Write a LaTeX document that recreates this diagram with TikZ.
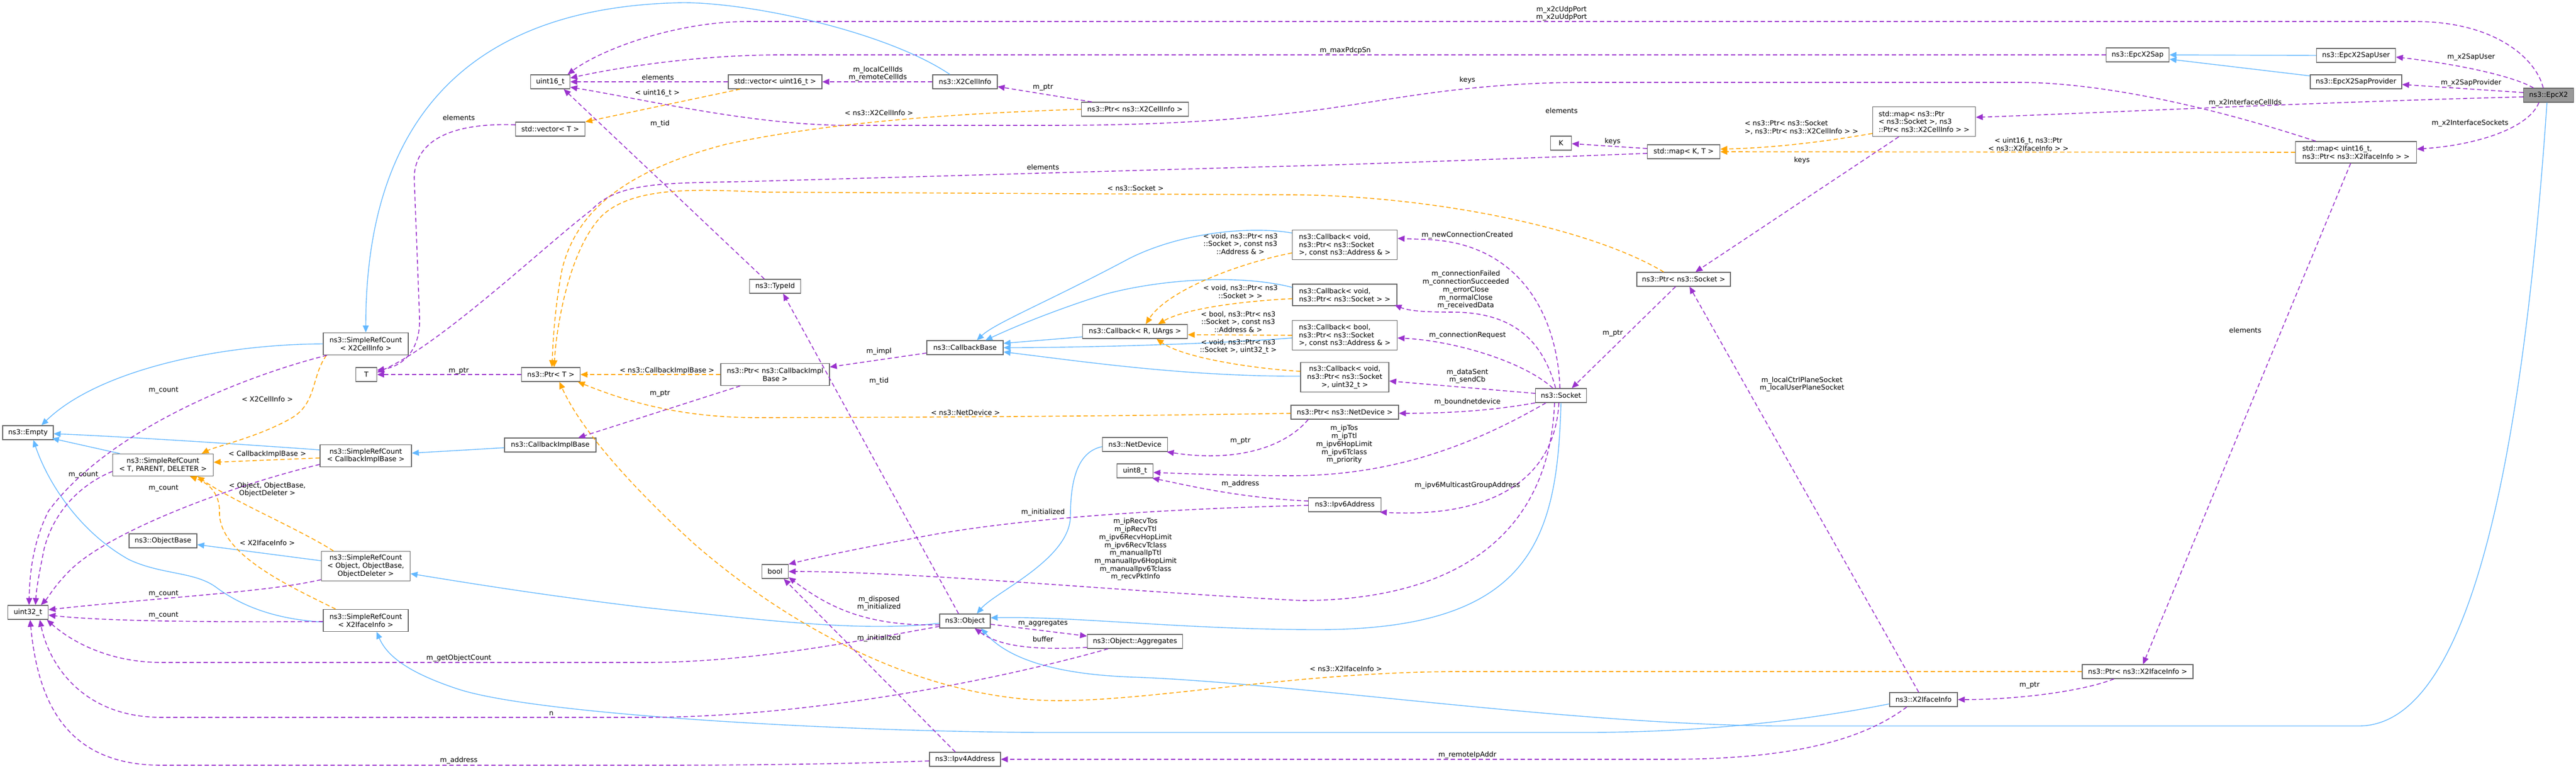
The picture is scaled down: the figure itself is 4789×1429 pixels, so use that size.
\documentclass[tikz,border=0pt]{standalone}
\usepackage{fontspec}
\setmainfont{DejaVu Sans}
\usetikzlibrary{arrows.meta}
\definecolor{usecol}{HTML}{9A32CD}
\definecolor{tplcol}{HTML}{FFA500}
\definecolor{inhcol}{HTML}{63B8FF}
\definecolor{boxline}{HTML}{666666}
\definecolor{focusfill}{HTML}{999999}
\newcommand{\bx}[7][]{\node[nodebox,#1,minimum width=#5pt,minimum height=#6pt] (#2) at (#3,#4) {#7};}
\begin{document}
\begin{tikzpicture}[x=1pt,y=-1pt,
  every node/.style={font=\fontsize{12.9}{14.7}\selectfont, inner sep=0pt},
  nodebox/.style={draw=boxline, line width=1.3pt, fill=white, align=center},
  lbl/.style={align=center},
  usage/.style={draw=usecol, line width=1.6pt, dash pattern=on 8pt off 5pt, -{Triangle[length=13pt,width=11pt]}},
  tmpl/.style={draw=tplcol, line width=1.6pt, dash pattern=on 8pt off 5pt, -{Triangle[length=13pt,width=11pt]}},
  inh/.style={draw=inhcol, line width=1.4pt, -{Triangle[length=13pt,width=11pt]}}
]
\fill[white] (0,0) rectangle (4789,1429);
\useasboundingbox (0,0) rectangle (4789,1429);

% ---------- nodes ----------
\bx{uint16}{1023}{152}{73}{26}{uint16\_t}
\bx{vecT}{1023}{240}{129}{26}{std::vector< T >}
\bx{vecU16}{1441}{152}{174}{26}{std::vector< uint16\_t >}
\bx{x2cell}{1794}{152}{120}{26}{ns3::X2CellInfo}
\bx{ptrcell}{2110}{203}{199}{26}{ns3::Ptr< ns3::X2CellInfo >}
\bx{srcCell}{680}{639}{158}{41}{ns3::SimpleRefCount\\< X2CellInfo >}
\bx{tnode}{681}{696}{39}{26}{T}
\bx{ptrT}{1024}{696}{109}{26}{ns3::Ptr< T >}
\bx{empty}{52}{804}{94}{26}{ns3::Empty}
\bx{srcT}{303}{864}{187}{41}{ns3::SimpleRefCount\\< T, PARENT, DELETER >}
\bx{srcCB}{680}{847}{170}{41}{ns3::SimpleRefCount\\< CallbackImplBase >}
\bx{cbimpl}{1023}{827}{170}{26}{ns3::CallbackImplBase}
\bx{objbase}{303}{1005}{126}{26}{ns3::ObjectBase}
\bx{srcObj}{680}{1052}{165}{55}{ns3::SimpleRefCount\\< Object, ObjectBase,\\ ObjectDeleter >}
\bx{uint32}{52}{1138}{75}{26}{uint32\_t}
\bx{srcIf}{680}{1153}{158}{41}{ns3::SimpleRefCount\\< X2IfaceInfo >}
\bx{typeid}{1441}{532}{95}{26}{ns3::TypeId}
\bx{ptrCB}{1441}{696}{202}{41}{ns3::Ptr< ns3::CallbackImpl\\Base >}
\bx{cbbase}{1794}{646}{142}{26}{ns3::CallbackBase}
\bx{cbR}{2110}{616}{195}{26}{ns3::Callback< R, UArgs >}
\bx{netdev}{2110}{826}{121}{26}{ns3::NetDevice}
\bx{uint8}{2110}{875}{67}{26}{uint8\_t}
\bx{boolnode}{1441}{1062}{49}{26}{bool}
\bx{object}{1794}{1154}{94}{26}{ns3::Object}
\bx{aggr}{2110}{1192}{177}{26}{ns3::Object::Aggregates}
\bx{ipv4}{1794}{1411}{132}{26}{ns3::Ipv4Address}
\bx{knode}{2902}{266}{39}{26}{K}
\bx{mapKT}{3130}{282}{135}{26}{std::map< K, T >}
\bx[align=left]{mapSock}{3577}{226}{191}{55}{std::map< ns3::Ptr\\< ns3::Socket >, ns3\\::Ptr< ns3::X2CellInfo > >}
\bx[align=left]{cbAddr}{2500}{455}{195}{55}{ns3::Callback< void,\\ ns3::Ptr< ns3::Socket\\>, const ns3::Address \& >}
\bx{ptrSock}{3130}{519}{174}{26}{ns3::Ptr< ns3::Socket >}
\bx[align=left]{cbVoid}{2500}{548}{194}{40}{ns3::Callback< void,\\ ns3::Ptr< ns3::Socket > >}
\bx[align=left]{cbBool}{2500}{623}{195}{55}{ns3::Callback< bool,\\ ns3::Ptr< ns3::Socket\\>, const ns3::Address \& >}
\bx{cbU32}{2500}{701}{164}{55}{ns3::Callback< void,\\ ns3::Ptr< ns3::Socket\\>, uint32\_t >}
\bx{socket}{2902}{735}{95}{26}{ns3::Socket}
\bx{ptrND}{2500}{766}{200}{26}{ns3::Ptr< ns3::NetDevice >}
\bx{ipv6}{2500}{938}{135}{26}{ns3::Ipv6Address}
\bx{x2if}{3576}{1300}{126}{26}{ns3::X2IfaceInfo}
\bx{sap}{3974}{102}{117}{26}{ns3::EpcX2Sap}
\bx{sapUser}{4380}{103}{147}{26}{ns3::EpcX2SapUser}
\bx{sapProv}{4380}{152}{170}{26}{ns3::EpcX2SapProvider}
\bx[fill=focusfill]{epcx2}{4738}{177}{93}{26}{ns3::EpcX2}
\bx[align=left]{mapIf}{4380}{283}{225}{40}{std::map< uint16\_t,\\ ns3::Ptr< ns3::X2IfaceInfo > >}
\bx{ptrIf}{3974}{1248}{206}{26}{ns3::Ptr< ns3::X2IfaceInfo >}

% ---------- edges ----------
\draw[usage] ([xshift=-10pt]epcx2.north) .. controls (4715,110) and (4640,40) .. (4490,40) -- (1390,40) .. controls (1260,40) and (1120,90) .. ([xshift=-5pt]uint16.north east);
\draw[usage] (sap.west) -- (1450,102) .. controls (1300,102) and (1150,125) .. ([yshift=7pt]uint16.east);
\draw[usage] (vecU16.west) -- (uint16.east);
\draw[tmpl] ([xshift=-65pt]vecU16.south) -- (vecT.north east);
\draw[usage] ([xshift=-20pt]typeid.north) -- ([xshift=25pt]uint16.south);
\draw[usage] ([xshift=-75pt]mapIf.north) .. controls (4100,195) and (3900,153) .. (3750,153) -- (2950,153) .. controls (2700,153) and (2550,195) .. (2400,210) .. controls (2250,228) and (2100,233) .. (1950,233) -- (1580,233) .. controls (1400,233) and (1200,185) .. ([yshift=-10pt]uint16.east);
\draw[usage] (x2cell.west) -- (vecU16.east);
\draw[usage] ([xshift=-80pt]ptrcell.north) -- ([yshift=-9pt]x2cell.east);
\draw[tmpl] (ptrcell.west) .. controls (1800,210) and (1550,225) .. (1350,268) .. controls (1150,320) and (1070,400) .. (1045,500) .. controls (1030,580) and (1028,640) .. ([xshift=2pt]ptrT.north);
\draw[tmpl] ([xshift=-37pt]ptrSock.north) .. controls (2950,420) and (2650,363) .. (2400,362) -- (1420,357) .. controls (1300,352) and (1180,345) .. (1120,400) .. controls (1060,460) and (1035,600) .. ([xshift=6pt]ptrT.north);
\draw[usage] ([yshift=-3pt]mapKT.west) .. controls (2800,295) and (2550,305) .. (2350,310) -- (1400,337) .. controls (1250,341) and (1150,335) .. (1100,390) .. controls (1020,450) and (820,640) .. ([yshift=4pt]tnode.east);
\draw[usage] ([yshift=8pt]vecT.west) .. controls (850,228) and (772,255) .. (770,330) -- (780,590) .. controls (782,650) and (750,680) .. ([yshift=8pt]tnode.east);
\draw[usage] ([yshift=6pt]mapKT.west) -- ([yshift=-1pt]knode.east);
\draw[tmpl] ([yshift=-22pt]mapSock.west) .. controls (3400,262) and (3300,275) .. ([yshift=5pt]mapKT.east);
\draw[tmpl] (mapIf.west) -- (mapKT.east);
\draw[usage] ([xshift=-47pt]mapSock.south) -- ([xshift=22pt]ptrSock.north);
\draw[usage] ([xshift=-10pt]mapIf.south) -- ([xshift=10pt]ptrIf.north);
\draw[usage] ([xshift=-28pt]epcx2.north) .. controls (4670,140) and (4560,118) .. ([yshift=-3pt]sapUser.east);
\draw[usage] ([yshift=5pt]epcx2.west) -- ([yshift=-5pt]sapProv.east);
\draw[usage] ([yshift=-3pt]epcx2.west) .. controls (4300,190) and (3900,210) .. ([yshift=8pt]mapSock.east);
\draw[usage] ([xshift=-18pt]epcx2.south) .. controls (4700,240) and (4600,270) .. ([yshift=6pt]mapIf.east);
\draw[inh] (sapUser.west) -- (sap.east);
\draw[inh] ([yshift=11pt]sapProv.west) -- ([yshift=-8pt]sap.east);
\draw[inh] ([xshift=-3pt]epcx2.south) .. controls (4680,1000) and (4560,1349) .. (4385,1349) -- (3300,1349) .. controls (2900,1345) and (2400,1268) .. (2100,1258) .. controls (1950,1252) and (1870,1220) .. ([xshift=30pt]object.south);
\draw[inh] (socket.south) .. controls (2895,1000) and (2850,1170) .. (2450,1170) .. controls (2200,1170) and (2000,1145) .. ([yshift=6pt]object.east);
\draw[inh] ([yshift=-4pt]netdev.west) .. controls (2000,840) and (1990,900) .. (1990,960) .. controls (1988,1040) and (1850,1100) .. ([xshift=22pt]object.north);
\draw[inh] ([yshift=-4pt]object.west) .. controls (1600,1176) and (1400,1150) .. (1200,1129) .. controls (1000,1105) and (850,1080) .. ([yshift=-14pt]srcObj.east);
\draw[inh] ([yshift=-8pt]x2if.west) .. controls (3300,1350) and (3100,1361) .. (2950,1361) -- (1950,1361) .. controls (1600,1361) and (1000,1330) .. (850,1280) .. controls (760,1250) and (720,1220) .. ([xshift=20pt]srcIf.south);
\draw[inh] ([yshift=-3pt]srcIf.west) .. controls (500,1150) and (440,1120) .. (400,1090) .. controls (360,1062) and (300,1068) .. (240,1040) .. controls (150,990) and (90,900) .. ([xshift=10pt]empty.south);
\draw[inh] ([xshift=-80pt]srcT.north) -- ([xshift=-3pt,yshift=3pt]empty.south east);
\draw[inh] ([yshift=11pt]srcCB.west) .. controls (400,822) and (200,810) .. ([yshift=-2pt]empty.east);
\draw[inh] (srcCell.west) .. controls (400,640) and (180,690) .. ([xshift=25pt]empty.north);
\draw[inh] ([yshift=10pt]srcObj.west) -- ([yshift=-7pt]objbase.east);
\draw[inh] ([yshift=-5pt]cbimpl.west) -- ([yshift=5pt]srcCB.east);
\draw[inh] ([xshift=-28pt]x2cell.north) .. controls (1650,60) and (1400,5) .. (1270,5) .. controls (950,10) and (680,150) .. (srcCell.north);
\draw[tmpl] ([xshift=-73pt]srcCell.south) .. controls (578,700) and (590,750) .. (540,778) .. controls (480,812) and (400,830) .. ([xshift=72pt]srcT.north);
\draw[tmpl] ([yshift=-4pt]srcCB.west) -- ([yshift=5pt]srcT.east);
\draw[tmpl] ([xshift=-60pt]srcObj.north) .. controls (560,985) and (430,930) .. ([xshift=64pt]srcT.south);
\draw[tmpl] ([xshift=-56pt]srcIf.north) .. controls (540,1090) and (405,1030) .. (408,950) .. controls (408,910) and (380,895) .. ([xshift=50pt]srcT.south);
\draw[usage] ([xshift=-72pt]srcCell.south) .. controls (450,700) and (200,800) .. (90,950) .. controls (60,1010) and (55,1070) .. ([xshift=2pt]uint32.north);
\draw[usage] ([yshift=-12pt]srcT.west) .. controls (150,900) and (100,950) .. (82,1020) .. controls (74,1060) and (68,1090) .. ([xshift=14pt]uint32.north);
\draw[usage] ([yshift=-16pt]srcCB.west) .. controls (420,905) and (200,990) .. (130,1060) .. controls (100,1090) and (90,1110) .. ([xshift=24pt]uint32.north);
\draw[usage] ([yshift=3pt]srcObj.south west) .. controls (500,1100) and (300,1110) .. ([yshift=5pt]uint32.east);
\draw[usage] ([yshift=-2pt]srcIf.west) .. controls (400,1156) and (200,1155) .. ([yshift=-5pt]uint32.east);
\draw[usage] ([yshift=-10pt]object.west) .. controls (1600,1190) and (1400,1231) .. (1200,1231) -- (300,1231) .. controls (200,1231) and (130,1190) .. ([xshift=-3pt]uint32.south east);
\draw[usage] ([xshift=-50pt]aggr.south) .. controls (1850,1265) and (1500,1333) .. (1200,1333) -- (300,1333) .. controls (150,1333) and (90,1230) .. ([xshift=22pt]uint32.south);
\draw[usage] ([yshift=-3pt]ipv4.west) .. controls (1500,1422) and (1300,1422) .. (1200,1422) -- (300,1422) .. controls (120,1422) and (70,1300) .. ([xshift=4pt]uint32.south);
\draw[usage] ([xshift=-31pt]x2if.south) .. controls (3450,1385) and (3300,1411) .. (3100,1411) -- (ipv4.east);
\draw[usage] ([xshift=-9pt]x2if.north) -- ([xshift=11pt]ptrSock.south);
\draw[usage] ([xshift=-44pt]ptrIf.south) .. controls (3870,1285) and (3750,1300) .. (x2if.east);
\draw[tmpl] (ptrIf.west) -- (2700,1248) .. controls (2400,1250) and (2150,1302) .. (1965,1302) .. controls (1700,1300) and (1450,1150) .. (1290,1010) .. controls (1180,910) and (1080,800) .. ([xshift=16pt]ptrT.south);
\draw[usage] ([xshift=-15pt]ptrSock.south) -- ([xshift=20pt]socket.north);
\draw[usage] ([xshift=-68pt]ptrND.south) .. controls (2390,830) and (2300,860) .. ([xshift=-2pt]netdev.south east);
\draw[tmpl] ([yshift=-2pt]ptrND.west) .. controls (2000,775) and (1500,776) .. (1400,776) .. controls (1250,775) and (1150,740) .. ([xshift=-5pt]ptrT.south east);
\draw[tmpl] (ptrCB.west) -- (ptrT.east);
\draw[usage] ([xshift=-65pt]ptrCB.south) -- ([xshift=52pt]cbimpl.north);
\draw[usage] (ptrT.west) -- (tnode.east);
\draw[usage] ([yshift=-10pt]cbbase.west) -- ([yshift=14pt]ptrCB.east);
\draw[usage] ([xshift=-12pt]object.north) -- ([xshift=15pt]typeid.south);
\draw[usage] ([yshift=-7pt]object.west) .. controls (1600,1165) and (1530,1120) .. ([yshift=3pt]boolnode.south east);
\draw[usage] ([yshift=-6pt]object.east) -- ([yshift=10pt]aggr.west);
\draw[usage] ([yshift=-11pt]aggr.west) .. controls (1900,1210) and (1850,1195) .. ([xshift=18pt]object.south);
\draw[usage] ([xshift=-18pt]ipv4.north) -- ([xshift=16pt]boolnode.south);
\draw[usage] ([yshift=-1pt]ipv6.west) .. controls (2200,945) and (1900,960) .. (1700,1000) .. controls (1580,1022) and (1500,1040) .. (boolnode.north east);
\draw[usage] ([yshift=7pt]ipv6.west) .. controls (2300,925) and (2200,900) .. ([xshift=-2pt]uint8.south east);
\draw[usage] ([xshift=-28pt]socket.south) .. controls (2750,820) and (2600,884) .. (2400,884) .. controls (2300,884) and (2200,880) .. ([yshift=-3pt]uint8.east);
\draw[usage] ([xshift=-12pt]socket.south) .. controls (2880,1000) and (2700,1115) .. (2420,1116) .. controls (2100,1100) and (1700,1062) .. (boolnode.east);
\draw[usage] ([xshift=-4pt]socket.south) .. controls (2890,900) and (2760,962) .. ([xshift=-3pt]ipv6.south east);
\draw[usage] (socket.south west) .. controls (2780,762) and (2700,768) .. ([yshift=-2pt]ptrND.east);
\draw[usage] ([yshift=4pt]socket.west) -- ([yshift=-7pt]cbU32.east);
\draw[usage] ([xshift=-15pt]socket.north) .. controls (2830,670) and (2700,633) .. ([yshift=-5pt]cbBool.east);
\draw[usage] ([xshift=-10pt]socket.north) .. controls (2870,640) and (2820,580) .. (2700,580) .. controls (2650,580) and (2620,578) .. ([xshift=-5pt,yshift=2pt]cbVoid.south east);
\draw[usage] ([xshift=-2pt]socket.north) .. controls (2895,580) and (2820,450) .. (2650,445) -- ([yshift=12pt]cbAddr.east);
\draw[inh] ([yshift=-10pt]cbR.west) -- ([yshift=8pt]cbbase.east);
\draw[inh] ([yshift=22pt]cbAddr.west) .. controls (2330,420) and (2200,430) .. (2100,480) .. controls (1950,560) and (1850,600) .. ([xshift=22pt]cbbase.north);
\draw[inh] ([yshift=14pt]cbVoid.west) .. controls (2300,508) and (2150,520) .. (2050,548) .. controls (1950,580) and (1880,610) .. ([xshift=38pt]cbbase.north);
\draw[inh] ([yshift=-5pt]cbBool.west) .. controls (2250,640) and (2000,646) .. (cbbase.east);
\draw[inh] ([yshift=2pt]cbU32.west) .. controls (2200,700) and (2000,670) .. ([yshift=-8pt]cbbase.east);
\draw[tmpl] ([yshift=-15pt]cbAddr.west) .. controls (2300,490) and (2170,540) .. ([xshift=20pt]cbR.north);
\draw[tmpl] ([yshift=-7pt]cbVoid.west) .. controls (2300,560) and (2200,575) .. ([xshift=43pt]cbR.north);
\draw[tmpl] (cbBool.west) -- ([yshift=-6pt]cbR.east);
\draw[tmpl] ([yshift=11pt]cbU32.west) .. controls (2330,685) and (2200,665) .. ([xshift=40pt]cbR.south);

% ---------- edge labels ----------
\node[lbl] (l01) at (2903,25) {m\_x2cUdpPort\\m\_x2uUdpPort};
\node[lbl] (l02) at (2501,94) {m\_maxPdcpSn};
\node[lbl] (l03) at (2728,149) {keys};
\node[lbl] (l04) at (2903,206) {elements};
\node[lbl,align=left] (l05) at (3349,237) {< ns3::Ptr< ns3::Socket\\>, ns3::Ptr< ns3::X2CellInfo > >};
\node[lbl] (l06) at (2998,263) {keys};
\node[lbl] (l07) at (3350,298) {keys};
\node[lbl] (l08) at (2728,437) {m\_newConnectionCreated};
\node[lbl] (l09) at (4594,106) {m\_x2SapUser};
\node[lbl] (l10) at (4594,154) {m\_x2SapProvider};
\node[lbl] (l11) at (4174,191) {m\_x2InterfaceCellIds};
\node[lbl] (l12) at (4592,229) {m\_x2InterfaceSockets};
\node[lbl] (l13) at (3771,268) {< uint16\_t, ns3::Ptr\\< ns3::X2IfaceInfo > >};
\node[lbl] (l14) at (4174,614) {elements};
\node[lbl] (l15) at (3773,1273) {m\_ptr};
\node[lbl] (l16) at (2502,1243) {< ns3::X2IfaceInfo >};
\node[lbl] (l17) at (2728,1403) {m\_remoteIpAddr};
\node[lbl] (l18) at (3350,714) {m\_localCtrlPlaneSocket\\m\_localUserPlaneSocket};
\node[lbl] (l19) at (2998,619) {m\_ptr};
\node[lbl] (l20) at (2725,539) {m\_connectionFailed\\m\_connectionSucceeded\\m\_errorClose\\m\_normalClose\\m\_receivedData};
\node[lbl] (l21) at (2728,623) {m\_connectionRequest};
\node[lbl] (l22) at (2728,699) {m\_dataSent\\m\_sendCb};
\node[lbl] (l23) at (2728,747) {m\_boundnetdevice};
\node[lbl] (l24) at (2499,826) {m\_ipTos\\m\_ipTtl\\m\_ipv6HopLimit\\m\_ipv6Tclass\\m\_priority};
\node[lbl] (l25) at (2728,902) {m\_ipv6MulticastGroupAddress};
\node[lbl] (l26) at (2306,453) {< void, ns3::Ptr< ns3\\::Socket >, const ns3\\::Address \& >};
\node[lbl] (l27) at (2306,542) {< void, ns3::Ptr< ns3\\::Socket > >};
\node[lbl] (l28) at (2302,598) {< bool, ns3::Ptr< ns3\\::Socket >, const ns3\\::Address \& >};
\node[lbl] (l29) at (2302,644) {< void, ns3::Ptr< ns3\\::Socket >, uint32\_t >};
\node[lbl] (l30) at (2306,819) {m\_ptr};
\node[lbl] (l31) at (2306,899) {m\_address};
\node[lbl] (l32) at (1939,952) {m\_initialized};
\node[lbl] (l33) at (2111,1021) {m\_ipRecvTos\\m\_ipRecvTtl\\m\_ipv6RecvHopLimit\\m\_ipv6RecvTclass\\m\_manualIpTtl\\m\_manualIpv6HopLimit\\m\_manualIpv6Tclass\\m\_recvPktInfo};
\node[lbl] (l34) at (1634,1121) {m\_disposed\\m\_initialized};
\node[lbl] (l35) at (1939,1158) {m\_aggregates};
\node[lbl] (l36) at (1939,1188) {buffer};
\node[lbl] (l37) at (1634,1186) {m\_initialized};
\node[lbl] (l38) at (1795,767) {< ns3::NetDevice >};
\node[lbl] (l39) at (1634,653) {m\_impl};
\node[lbl] (l40) at (1634,708) {m\_tid};
\node[lbl] (l41) at (1227,230) {m\_tid};
\node[lbl] (l42) at (1939,311) {elements};
\node[lbl] (l43) at (2111,350) {< ns3::Socket >};
\node[lbl] (l44) at (1634,210) {< ns3::X2CellInfo >};
\node[lbl] (l45) at (1632,137) {m\_localCellIds\\m\_remoteCellIds};
\node[lbl] (l46) at (1939,162) {m\_ptr};
\node[lbl] (l47) at (1223,144) {elements};
\node[lbl] (l48) at (1222,173) {< uint16\_t >};
\node[lbl] (l49) at (853,219) {elements};
\node[lbl] (l50) at (1240,689) {< ns3::CallbackImplBase >};
\node[lbl] (l51) at (1227,731) {m\_ptr};
\node[lbl] (l52) at (853,689) {m\_ptr};
\node[lbl] (l53) at (304,725) {m\_count};
\node[lbl] (l54) at (497,742) {< X2CellInfo >};
\node[lbl] (l55) at (497,844) {< CallbackImplBase >};
\node[lbl] (l56) at (155,882) {m\_count};
\node[lbl] (l57) at (304,907) {m\_count};
\node[lbl] (l58) at (497,910) {< Object, ObjectBase,\\ ObjectDeleter >};
\node[lbl] (l59) at (497,1009) {< X2IfaceInfo >};
\node[lbl] (l60) at (304,1103) {m\_count};
\node[lbl] (l61) at (304,1143) {m\_count};
\node[lbl] (l62) at (853,1223) {m\_getObjectCount};
\node[lbl] (l63) at (1025,1326) {n};
\node[lbl] (l64) at (853,1413) {m\_address};
\end{tikzpicture}
\end{document}
